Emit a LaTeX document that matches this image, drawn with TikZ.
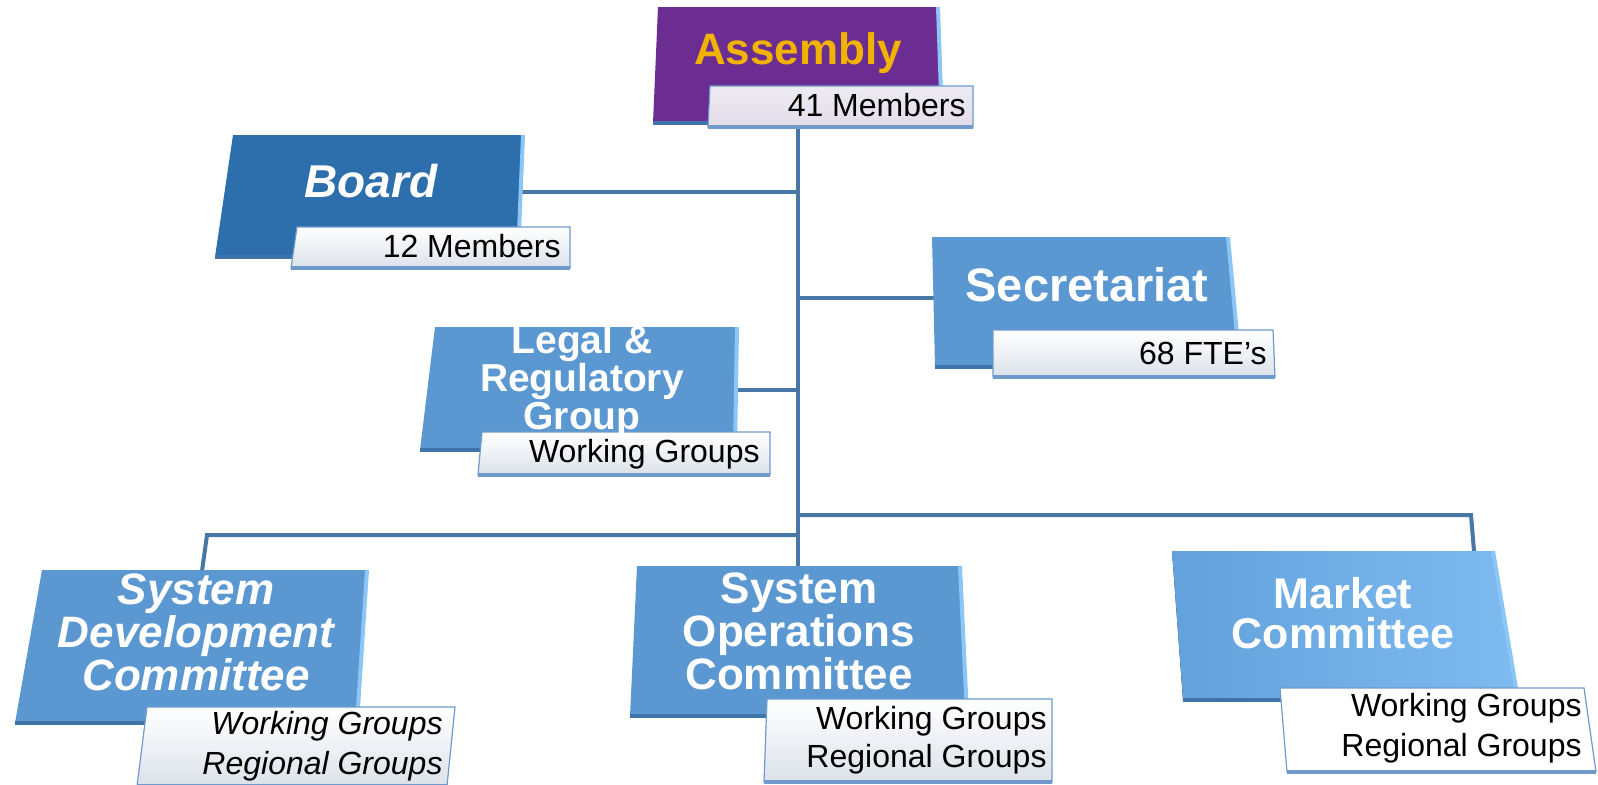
\documentclass[tikz,border=0pt]{standalone}
\usepackage{fontspec}
\setmainfont{Liberation Sans}
\usetikzlibrary{calc}

\definecolor{asmpurple}{HTML}{6B2D91}
\definecolor{asmgold}{HTML}{F2B200}
\definecolor{asmnote}{HTML}{E3DDEA}
\definecolor{boardblue}{HTML}{2D6EAC}
\definecolor{unitblue}{HTML}{5B98D1}
\definecolor{unitlight}{HTML}{8CC6F6}
\definecolor{unitdark}{HTML}{3E74AA}
\definecolor{mktleft}{HTML}{62A1DB}
\definecolor{mktright}{HTML}{7EBBF1}
\definecolor{linkblue}{HTML}{4877A6}
\definecolor{notebot}{HTML}{DCE2EA}
\definecolor{noteedge}{HTML}{6F9ACB}

% box with a light right edge and a dark bottom edge
\newcommand\orgbox[5]{%
  \fill[#1] #2 -- #3 -- #4 -- #5 -- cycle;
  \draw[unitlight, line width=2pt] #3 -- #4;
  \draw[unitdark, line width=2pt] #4 -- #5;
}
% small label plate under a box
\newcommand\memobox[5]{%
  \path[#1] #2 -- #3 -- #4 -- #5 -- cycle;
  \draw[noteedge, line width=2pt] #4 -- #5;
}

\tikzset{
  link/.style={draw=linkblue, line width=2pt},
  title/.style={text=white, font=\bfseries\fontsize{22.5}{19}\selectfont, align=center, inner sep=0pt},
  note/.style={font=\fontsize{16}{20}\selectfont, align=right, anchor=east, inner sep=0pt},
  plate/.style={top color=white, bottom color=notebot, draw=noteedge, line width=0.6pt},
}

\begin{document}
\begin{tikzpicture}[x=0.5pt, y=-0.5pt]
  \useasboundingbox (0,0) rectangle (1598,784);

  % attach points
  \coordinate (asm-s) at (798,127);
  \coordinate (board-e) at (519,192);
  \coordinate (sec-w) at (934,298);
  \coordinate (legal-e) at (736,390);
  \coordinate (soc-n) at (798,566);
  \coordinate (sdc-bend) at (207,535);
  \coordinate (sdc-n) at (202,571);
  \coordinate (mkt-bend) at (1471,515);
  \coordinate (mkt-n) at (1474,551);

  % connectors
  \draw[link] (asm-s) -- (soc-n);
  \draw[link] (board-e) -- (board-e -| asm-s);
  \draw[link] (sec-w) -- (sec-w -| asm-s);
  \draw[link] (legal-e) -- (legal-e -| asm-s);
  \draw[link] (asm-s |- sdc-bend) -- (sdc-bend) -- (sdc-n);
  \draw[link] (asm-s |- mkt-bend) -- (mkt-bend) -- (mkt-n);

  % Assembly
  \orgbox{asmpurple}{(658,7)}{(938,7)}{(942,123)}{(653,123)}
  \memobox{top color=asmnote!60!white, bottom color=asmnote, draw=noteedge, line width=0.6pt}{(710,86)}{(973,86)}{(973,127)}{(708,127)}
  \node[title, text=asmgold, font=\bfseries\fontsize{22}{19}\selectfont] (asm) at (798,53) {Assembly};
  \node[note] (asm-note) at (966,105) {41 Members};

  % Board
  \orgbox{boardblue}{(233,135)}{(523,135)}{(518,257)}{(215,257)}
  \memobox{plate}{(297,227)}{(570,227)}{(570,268)}{(291,268)}
  \node[title, font=\bfseries\itshape\fontsize{23}{19}\selectfont] (board) at (371,181) {Board};
  \node[note] (board-note) at (561,246) {12 Members};

  % Secretariat
  \orgbox{unitblue}{(932,237)}{(1228,237)}{(1240,367)}{(935,367)}
  \memobox{plate}{(993,330)}{(1273,330)}{(1275,377)}{(993,377)}
  \node[title, font=\bfseries\fontsize{23.5}{19}\selectfont] (sec) at (1087,285) {Secretariat};
  \node[note] (sec-note) at (1267,353) {68 FTE’s};

  % Legal & Regulatory Group
  \orgbox{unitblue}{(435,327)}{(737,327)}{(735,450)}{(420,450)}
  \memobox{plate}{(482,432)}{(770,432)}{(770,475)}{(478,475)}
  \node[title, font=\bfseries\fontsize{19.5}{16.5}\selectfont] (legal) at (582,381) {Legal \&\\Regulatory\\Group};
  \node[note] (legal-note) at (760,454) {Working Groups};

  % System Development Committee
  \orgbox{unitblue}{(42,570)}{(367,570)}{(357,723)}{(15,723)}
  \memobox{plate}{(147,707)}{(455,707)}{(447,786)}{(137,786)}
  \node[title, font=\bfseries\itshape\fontsize{22}{18.5}\selectfont] (sdc) at (196,632) {System\\Development\\Committee};
  \node[note, font=\itshape\fontsize{16}{20}\selectfont] (sdc-note) at (443,746) {Working Groups\\Regional Groups};

  % System Operations Committee
  \orgbox{unitblue}{(637,566)}{(960,566)}{(967,716)}{(630,716)}
  \memobox{plate}{(767,699)}{(1052,699)}{(1052,782)}{(764,782)}
  \node[title, font=\bfseries\fontsize{22}{20}\selectfont] (soc) at (799,631) {System\\Operations\\Committee};
  \node[note, font=\fontsize{16}{19}\selectfont] (soc-note) at (1047,740) {Working Groups\\Regional Groups};

  % Market Committee
  \orgbox{left color=mktleft, right color=mktright}{(1172,551)}{(1493,551)}{(1518,700)}{(1183,700)}
  \memobox{fill=white, draw=noteedge, line width=0.6pt}{(1280,688)}{(1584,688)}{(1596,772)}{(1287,772)}
  \node[title, font=\bfseries\fontsize{21.5}{20}\selectfont] (mkt) at (1343,613) {Market\\Committee};
  \node[note] (mkt-note) at (1582,728) {Working Groups\\Regional Groups};
\end{tikzpicture}
\end{document}
